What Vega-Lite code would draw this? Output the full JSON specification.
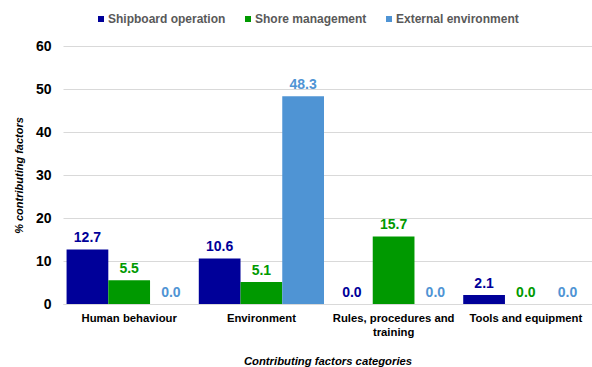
{
  "$schema": "https://vega.github.io/schema/vega-lite/v6.json",
  "width": 592,
  "height": 367,
  "autosize": {"type": "fit", "contains": "padding"},
  "padding": {"left": 13, "right": 0, "top": 39, "bottom": 0},
  "background": "white",
  "config": {
    "view": {"stroke": null},
    "font": "Liberation Sans"
  },
  "data": {
    "values": [
      {"category": "Human behaviour", "series": "Shipboard operation", "value": 12.7},
      {"category": "Human behaviour", "series": "Shore management", "value": 5.5},
      {"category": "Human behaviour", "series": "External environment", "value": 0.0},
      {"category": "Environment", "series": "Shipboard operation", "value": 10.6},
      {"category": "Environment", "series": "Shore management", "value": 5.1},
      {"category": "Environment", "series": "External environment", "value": 48.3},
      {"category": "Rules, procedures and training", "series": "Shipboard operation", "value": 0.0},
      {"category": "Rules, procedures and training", "series": "Shore management", "value": 15.7},
      {"category": "Rules, procedures and training", "series": "External environment", "value": 0.0},
      {"category": "Tools and equipment", "series": "Shipboard operation", "value": 2.1},
      {"category": "Tools and equipment", "series": "Shore management", "value": 0.0},
      {"category": "Tools and equipment", "series": "External environment", "value": 0.0}
    ]
  },
  "encoding": {
    "x": {
      "field": "category", "type": "nominal",
      "sort": ["Human behaviour", "Environment", "Rules, procedures and training", "Tools and equipment"],
      "scale": {"paddingInner": 0.053, "paddingOuter": 0.027},
      "axis": {
        "title": "Contributing factors categories",
        "titleFontStyle": "italic", "titleFontWeight": "bold", "titleFontSize": 11.3, "titleColor": "black",
        "titlePadding": 18,
        "labelAngle": 0, "labelFontWeight": "bold", "labelFontSize": 11.3, "labelColor": "black",
        "labelExpr": "datum.label == 'Rules, procedures and training' ? ['Rules, procedures and', 'training'] : datum.label",
        "ticks": false, "domainColor": "#d9d9d9", "labelPadding": 8, "labelLineHeight": 14
      }
    },
    "xOffset": {
      "field": "series", "type": "nominal",
      "sort": ["Shipboard operation", "Shore management", "External environment"],
      "scale": {"paddingInner": 0, "paddingOuter": 0}
    },
    "y": {
      "field": "value", "type": "quantitative",
      "scale": {"domain": [0, 60]},
      "axis": {
        "title": "% contributing factors",
        "titleFontStyle": "italic", "titleFontWeight": "bold", "titleFontSize": 11, "titleColor": "black",
        "titlePadding": 11,
        "values": [0, 10, 20, 30, 40, 50, 60],
        "labelFontWeight": "bold", "labelFontSize": 14, "labelColor": "black",
        "domain": false, "ticks": false, "labelPadding": 12,
        "gridColor": "#d9d9d9"
      }
    },
    "color": {
      "field": "series", "type": "nominal",
      "sort": ["Shipboard operation", "Shore management", "External environment"],
      "scale": {
        "domain": ["Shipboard operation", "Shore management", "External environment"],
        "range": ["#000099", "#009900", "#4F94D4"]
      },
      "legend": {
        "title": null, "orient": "none", "direction": "horizontal",
        "legendX": 32, "legendY": -33,
        "symbolType": "square", "symbolSize": 36, "symbolStrokeWidth": 0,
        "labelFontWeight": "bold", "labelFontSize": 12, "labelColor": "#595959",
        "columnPadding": 16, "labelOffset": 1
      }
    }
  },
  "layer": [
    {"mark": {"type": "bar"}},
    {
      "mark": {"type": "text", "dy": -11, "fontWeight": "bold", "fontSize": 14},
      "encoding": {
        "text": {"field": "value", "type": "quantitative", "format": ".1f"}
      }
    }
  ]
}
